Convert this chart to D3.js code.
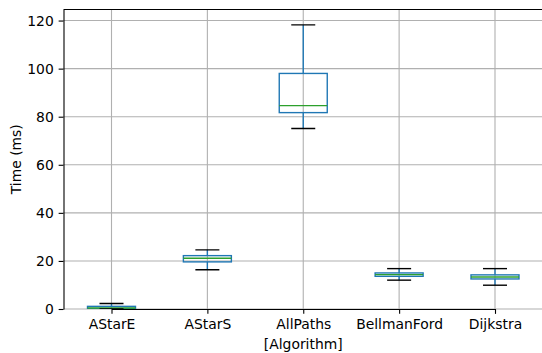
<!DOCTYPE html>
<html>
<head>
<meta charset="utf-8">
<script src="https://cdn.jsdelivr.net/npm/d3@7"></script>
<style>
  html, body { margin: 0; padding: 0; background: #fff; }
  svg { display: block; font-family: "DejaVu Sans", sans-serif; }
</style>
</head>
<body>
<svg id="chart" width="542" height="353"></svg>
<script>
// Run times per algorithm (ms): box-plot statistics
const algorithms = ["AStarE", "AStarS", "AllPaths", "BellmanFord", "Dijkstra"];
const whiskerLow  = [0.05, 16.3, 75.1, 12.0, 9.9];
const quartile1   = [0.2, 19.6, 81.7, 13.6, 12.5];
const medians     = [0.4, 21.1, 84.6, 14.3, 13.3];
const quartile3   = [1.1, 22.2, 98.0, 15.0, 14.2];
const whiskerHigh = [2.3, 24.6, 118.2, 16.8, 16.8];
const yTicks = [0, 20, 40, 60, 80, 100, 120];

const stats = algorithms.map((name, i) => ({
  name, lo: whiskerLow[i], q1: quartile1[i], med: medians[i], q3: quartile3[i], hi: whiskerHigh[i]
}));

const svg = d3.select("#chart");
const margin = { left: 63.5, top: 9.5, right: 543, bottom: 309 };
const fs = 13.9;
const tick = 4.86;

const x = d3.scalePoint().domain(algorithms).range([margin.left + 48, margin.right - 48]);
const step = 96;
const y = d3.scaleLinear().domain([0, 124.6]).range([margin.bottom, margin.top]);

svg.append("defs").append("clipPath").attr("id", "plot")
  .append("rect")
  .attr("x", margin.left).attr("y", margin.top)
  .attr("width", margin.right - margin.left).attr("height", margin.bottom - margin.top);

// grid
const grid = svg.append("g").attr("stroke", "#b0b0b0").attr("stroke-width", 1.1);
grid.selectAll(".gy").data(yTicks).join("line")
  .attr("x1", margin.left).attr("x2", margin.right)
  .attr("y1", d => y(d)).attr("y2", d => y(d));
grid.selectAll(".gx").data(algorithms).join("line")
  .attr("x1", d => x(d)).attr("x2", d => x(d))
  .attr("y1", margin.top).attr("y2", margin.bottom);

// boxes
const boxes = svg.append("g").attr("clip-path", "url(#plot)")
  .selectAll("g").data(stats).join("g");
const bw = step * 0.5, cw = step * 0.25;
boxes.append("line").attr("stroke", "#1f77b4").attr("stroke-width", 1.39)
  .attr("x1", d => x(d.name)).attr("x2", d => x(d.name))
  .attr("y1", d => y(d.lo)).attr("y2", d => y(d.q1));
boxes.append("line").attr("stroke", "#1f77b4").attr("stroke-width", 1.39)
  .attr("x1", d => x(d.name)).attr("x2", d => x(d.name))
  .attr("y1", d => y(d.q3)).attr("y2", d => y(d.hi));
boxes.append("rect").attr("fill", "none").attr("stroke", "#1f77b4").attr("stroke-width", 1.39)
  .attr("x", d => x(d.name) - bw / 2).attr("width", bw)
  .attr("y", d => y(d.q3)).attr("height", d => y(d.q1) - y(d.q3));
boxes.append("line").attr("stroke", "#2ca02c").attr("stroke-width", 1.39)
  .attr("x1", d => x(d.name) - bw / 2).attr("x2", d => x(d.name) + bw / 2)
  .attr("y1", d => y(d.med)).attr("y2", d => y(d.med));
["lo", "hi"].forEach(k => {
  boxes.append("line").attr("stroke", "#000").attr("stroke-width", 1.39)
    .attr("x1", d => x(d.name) - cw / 2).attr("x2", d => x(d.name) + cw / 2)
    .attr("y1", d => y(d[k])).attr("y2", d => y(d[k]));
});

// axes
const xAxis = svg.append("g").attr("transform", `translate(0,${margin.bottom})`)
  .call(d3.axisBottom(x).tickSize(tick).tickPadding(4.86).tickSizeOuter(0));
const yAxis = svg.append("g").attr("transform", `translate(${margin.left},0)`)
  .call(d3.axisLeft(y).tickValues(yTicks).tickSize(tick).tickPadding(4.86).tickSizeOuter(0));
[xAxis, yAxis].forEach(a => {
  a.selectAll("text").attr("font-size", fs).attr("font-family", "DejaVu Sans").attr("fill", "#000");
  a.selectAll("line").attr("stroke", "#000").attr("stroke-width", 1.1);
  a.select(".domain").attr("stroke", "#000").attr("stroke-width", 1.1);
});

// remaining spines
svg.append("line").attr("stroke", "#000").attr("stroke-width", 1.1)
  .attr("x1", margin.left).attr("x2", margin.right).attr("y1", margin.top).attr("y2", margin.top);
svg.append("line").attr("stroke", "#000").attr("stroke-width", 1.1)
  .attr("x1", margin.right).attr("x2", margin.right).attr("y1", margin.top).attr("y2", margin.bottom);

// axis labels
svg.append("text").attr("x", (margin.left + margin.right) / 2).attr("y", 349)
  .attr("text-anchor", "middle").attr("font-size", fs).text("[Algorithm]");
svg.append("text").attr("transform", `translate(21,${(margin.top + margin.bottom) / 2}) rotate(-90)`)
  .attr("text-anchor", "middle").attr("font-size", fs).text("Time (ms)");
</script>
</body>
</html>
